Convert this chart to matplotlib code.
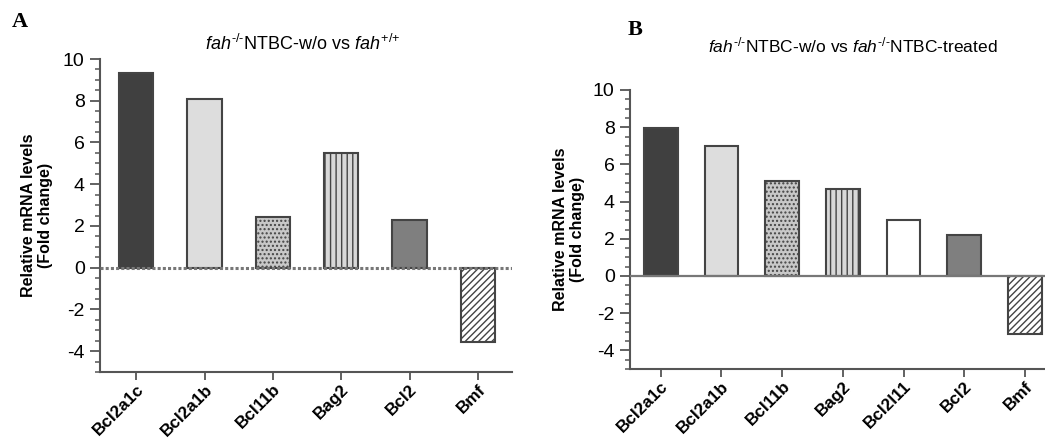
import matplotlib
matplotlib.use("Agg")
import matplotlib.pyplot as plt
from matplotlib.ticker import MultipleLocator

plt.rcParams['font.family'] = ['Liberation Sans', 'DejaVu Sans']
plt.rcParams['mathtext.fontset'] = 'custom'
plt.rcParams['mathtext.rm'] = 'Liberation Sans'
plt.rcParams['mathtext.it'] = 'Liberation Sans:italic'
plt.rcParams['axes.unicode_minus'] = False
plt.rcParams['hatch.linewidth'] = 1.0

# Panel A data
genes_a = ['Bcl2a1c', 'Bcl2a1b', 'Bcl11b', 'Bag2', 'Bcl2', 'Bmf']
values_a = [9.35, 8.1, 2.45, 5.48, 2.27, -3.56]

# Panel B data
genes_b = ['Bcl2a1c', 'Bcl2a1b', 'Bcl11b', 'Bag2', 'Bcl2l11', 'Bcl2', 'Bmf']
values_b = [7.94, 7.0, 5.12, 4.7, 3.0, 2.23, -3.1]

# fill styles per gene (face colour, hatch)
styles = {
    'Bcl2a1c': ('#404040', None),
    'Bcl2a1b': ('#dddddd', None),
    'Bcl11b': ('#c8c8c8', '....'),
    'Bag2': ('#d8d8d8', '|||'),
    'Bcl2l11': ('#ffffff', None),
    'Bcl2': ('#7f7f7f', None),
    'Bmf': ('#ffffff', '/////'),
}

W, H = 1045, 441
fig = plt.figure(figsize=(W / 100, H / 100), dpi=100)


def draw_panel(ax, genes, values, width, xlim, dotted_zero):
    for i, (g, v) in enumerate(zip(genes, values)):
        fc, hatch = styles[g]
        ax.bar(i, v, width=width, color=fc, hatch=hatch, edgecolor='#444444',
               linewidth=1.5, zorder=2)
    if dotted_zero:
        ax.axhline(0, color='#777777', linestyle=(0, (1, 0.7)), lw=2.2, zorder=3)
    else:
        ax.axhline(0, color='#777777', lw=1.6, zorder=3)
    ax.set_xlim(*xlim)
    ax.set_ylim(-5, 10)
    ax.yaxis.set_major_locator(MultipleLocator(2))
    ax.yaxis.set_minor_locator(MultipleLocator(0.5))
    ax.set_xticks(range(len(genes)))
    ax.set_xticklabels(genes, rotation=45, ha='right', rotation_mode='anchor',
                       fontweight='bold', fontsize=12.3)
    ax.tick_params(axis='y', which='major', length=7, width=1.3, color='#555555',
                   labelsize=14, pad=4)
    ax.tick_params(axis='y', which='minor', length=3.5, width=1.1, color='#555555')
    ax.tick_params(axis='x', length=6, width=1.3, color='#555555', pad=1)
    for s in ['top', 'right']:
        ax.spines[s].set_visible(False)
    for s in ['left', 'bottom']:
        ax.spines[s].set_color('#555555')
        ax.spines[s].set_linewidth(1.5)
    ax.set_ylabel('Relative mRNA levels\n(Fold change)', fontweight='bold',
                  fontsize=11.5, linespacing=1.15)


ax_a = fig.add_axes([100 / W, 1 - 372 / H, 412 / W, 313 / H])
draw_panel(ax_a, genes_a, values_a, 0.5, (-0.53, 5.5), True)
ax_a.yaxis.set_label_coords(-0.114, 0.5)

fig.text(303 / W, 1 - 44 / H,
         r'$\it{fah}^{\text{-/-}}$NTBC-w/o vs $\it{fah}^{\text{+/+}}$',
         ha='center', va='center', fontsize=13)

ax_b = fig.add_axes([630 / W, 1 - 369 / H, 415 / W, 279 / H])
draw_panel(ax_b, genes_b, values_b, 0.555, (-0.506, 6.33), False)
ax_b.yaxis.set_label_coords(-0.108, 0.5)

fig.text(853 / W, 1 - 45 / H,
         r'$\it{fah}^{\text{-/-}}$NTBC-w/o vs $\it{fah}^{\text{-/-}}$NTBC-treated',
         ha='center', va='center', fontsize=12.5)

fig.text(20 / W, 1 - 22 / H, 'A', family='Liberation Serif', fontweight='bold',
         fontsize=16, ha='center', va='center')
fig.text(635 / W, 1 - 30 / H, 'B', family='Liberation Serif', fontweight='bold',
         fontsize=16, ha='center', va='center')

fig.savefig('out.png', dpi=100)
